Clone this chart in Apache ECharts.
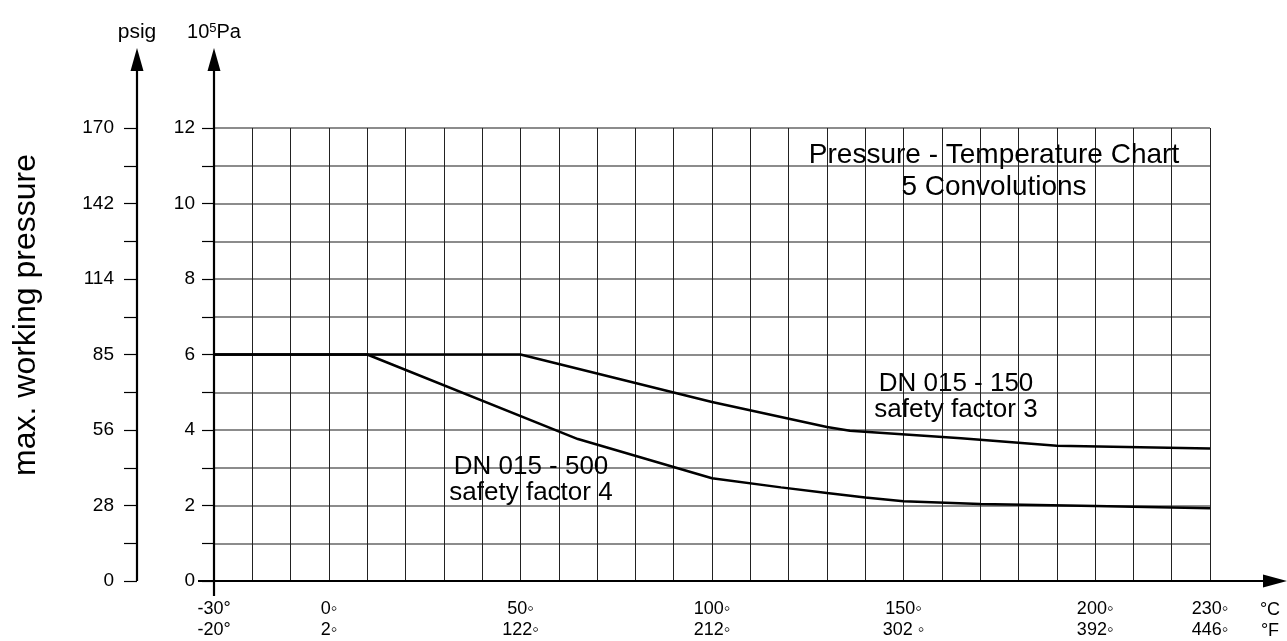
<!DOCTYPE html>
<html>
<head>
<meta charset="utf-8">
<script src="https://cdn.jsdelivr.net/npm/echarts@6/dist/echarts.min.js"></script>
<style>
html,body{margin:0;padding:0;background:#fff;}
#c{width:1287px;height:641px;}
</style>
</head>
<body>
<div id="c"></div>
<script>
// ---- data ----
const tempTickValues = [-30, 0, 50, 100, 150, 200, 230];
const tempTicksC = ['-30°', '0◦', '50◦', '100◦', '150◦', '200◦', '230◦'];
const tempTicksF = ['-20°', '2◦', '122◦', '212◦', '302 ◦', '392◦', '446◦'];
const paTickValues = [0, 2, 4, 6, 8, 10, 12];
const psigTicks = ['0', '28', '56', '85', '114', '142', '170'];

// DN 015 - 150, safety factor 3
const sf3Temp = [-30, 50, 100, 130, 136, 165, 190, 230];
const sf3Pressure = [6, 6, 4.74, 4.08, 3.98, 3.78, 3.58, 3.51];
// DN 015 - 500, safety factor 4
const sf4Temp = [-30, 10, 65, 100, 118, 130, 140, 150, 170, 200, 230];
const sf4Pressure = [6, 6, 3.76, 2.72, 2.48, 2.33, 2.21, 2.11, 2.04, 1.99, 1.93];

const FONT = '"Liberation Sans", Arial, Helvetica, sans-serif';

const chart = echarts.init(document.getElementById('c'), null, {renderer: 'canvas'});

function zip(a, b) { return a.map((v, i) => [v, b[i]]); }

const option = {
  animation: false,
  backgroundColor: '#fff',
  textStyle: {fontFamily: FONT, color: '#000'},
  grid: {left: 214, right: 77, top: 128, bottom: 58, containLabel: false},
  xAxis: {
    type: 'value', min: -30, max: 230, interval: 10,
    axisLine: {show: false, onZero: false},
    axisTick: {show: false},
    splitLine: {show: true, lineStyle: {color: '#222', width: 1}},
    axisLabel: {
      show: true, margin: 18, color: '#000', fontFamily: FONT, fontSize: 18, lineHeight: 21,
      showMinLabel: true, showMaxLabel: true,
      formatter: function (v) {
        const i = tempTickValues.indexOf(v);
        return i < 0 ? '' : tempTicksC[i] + '\n' + tempTicksF[i];
      }
    }
  },
  yAxis: [
    {
      type: 'value', min: 0, max: 12, interval: 1, position: 'left',
      name: '{a|10}{s|5}{a|Pa}', nameLocation: 'end', nameGap: 96,
      nameTextStyle: {
        align: 'center', verticalAlign: 'middle',
        rich: {
          a: {fontFamily: FONT, fontSize: 20, color: '#000'},
          s: {fontFamily: FONT, fontSize: 13, color: '#000', verticalAlign: 'top', padding: [0, 0, 8, 0]}
        }
      },
      axisLine: {show: false, onZero: false},
      axisTick: {show: true, length: 12, lineStyle: {color: '#000', width: 1.2}},
      splitLine: {show: true, lineStyle: {color: '#666', width: 1.5}},
      axisLabel: {
        margin: 19, color: '#000', fontFamily: FONT, fontSize: 19,
        formatter: function (v) { return paTickValues.indexOf(v) >= 0 ? String(v) : ''; }
      }
    },
    {
      type: 'value', min: 0, max: 12, interval: 1, position: 'left', offset: 77,
      name: 'psig', nameLocation: 'end', nameGap: 96,
      nameTextStyle: {fontFamily: FONT, fontSize: 21, color: '#000', align: 'center', verticalAlign: 'middle'},
      axisLine: {show: false, onZero: false},
      axisTick: {show: true, length: 13, lineStyle: {color: '#000', width: 1.2}},
      splitLine: {show: false},
      axisLabel: {
        margin: 23, color: '#000', fontFamily: FONT, fontSize: 19,
        formatter: function (v) {
          const i = paTickValues.indexOf(v);
          return i < 0 ? '' : psigTicks[i];
        }
      }
    }
  ],
  series: [
    {
      type: 'line', name: 'DN 015 - 150 safety factor 3', data: zip(sf3Temp, sf3Pressure),
      showSymbol: false, symbol: 'none', lineStyle: {color: '#000', width: 2.5}, z: 5
    },
    {
      type: 'line', name: 'DN 015 - 500 safety factor 4', data: zip(sf4Temp, sf4Pressure),
      showSymbol: false, symbol: 'none', lineStyle: {color: '#000', width: 2.5}, z: 5
    }
  ]
};
chart.setOption(option);

// ---- decorations: extended axis lines with arrowheads, texts ----
const xLeft = chart.convertToPixel({xAxisIndex: 0}, -30);
const y0 = chart.convertToPixel({yAxisIndex: 0}, 0);
const psigX = xLeft - 77;
const arrowTipY = 48;
const W = 1287;

function vArrow(x) {
  return [
    {type: 'line', shape: {x1: x, y1: y0, x2: x, y2: arrowTipY + 20}, style: {stroke: '#000', lineWidth: 2.2}, z: 10},
    {type: 'polygon', shape: {points: [[x, arrowTipY], [x - 6.5, arrowTipY + 23], [x + 6.5, arrowTipY + 23]]}, style: {fill: '#000'}, z: 10}
  ];
}

function txt(s, x, y, size) {
  return {type: 'text', style: {text: s, x: x, y: y, font: size + 'px ' + FONT, fill: '#000', textAlign: 'center', textVerticalAlign: 'middle'}, z: 10};
}

const graphics = [].concat(
  vArrow(psigX),
  vArrow(xLeft),
  [
    {type: 'line', shape: {x1: xLeft, y1: y0, x2: xLeft, y2: y0 + 15}, style: {stroke: '#000', lineWidth: 2.2}, z: 10},
    {type: 'line', shape: {x1: xLeft - 16, y1: y0, x2: W - 20, y2: y0}, style: {stroke: '#000', lineWidth: 2.2}, z: 10},
    {type: 'polygon', shape: {points: [[W, y0], [W - 24, y0 - 6.5], [W - 24, y0 + 6.5]]}, style: {fill: '#000'}, z: 10},
    {type: 'text', style: {text: '°C\n°F', x: 1270, y: 600, font: '18px ' + FONT, fill: '#000', textAlign: 'center', lineHeight: 21}, z: 10},
    txt('Pressure - Temperature Chart', 994, 155, 28),
    txt('5 Convolutions', 994, 187, 28),
    txt('DN 015 - 150', 956, 384, 26),
    txt('safety factor 3', 956, 410, 26),
    txt('DN 015 - 500', 531, 467, 26),
    txt('safety factor 4', 531, 493, 26),
    {type: 'text', x: 26, y: 315, rotation: Math.PI / 2,
      style: {text: 'max. working pressure', x: 0, y: 0, font: '32px ' + FONT, fill: '#000', textAlign: 'center', textVerticalAlign: 'middle'}, z: 10}
  ]
);
chart.setOption({graphic: graphics});
</script>
</body>
</html>
